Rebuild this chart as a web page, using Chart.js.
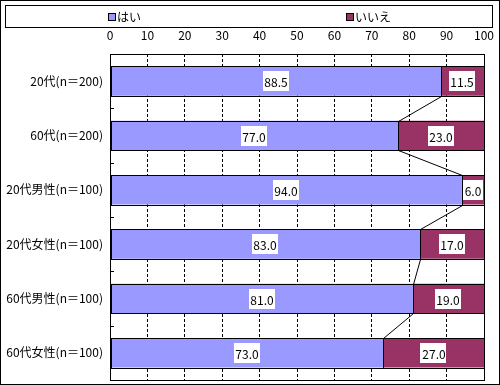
<!DOCTYPE html>
<html>
<head>
<meta charset="utf-8">
<script src="https://cdn.jsdelivr.net/npm/chart.js@4.4.0/dist/chart.umd.min.js"></script>
<style>
html,body{margin:0;padding:0;background:#fff;}
#wrap{position:relative;width:500px;height:385px;box-sizing:border-box;border:1px solid #000;}
canvas{position:absolute;left:0;top:0;}
</style>
</head>
<body>
<div id="wrap"><canvas id="c" width="498" height="383"></canvas></div>
<script>
const categories = ["20代(n＝200)", "60代(n＝200)", "20代男性(n＝100)", "20代女性(n＝100)", "60代男性(n＝100)", "60代女性(n＝100)"];
const seriesNames = ["はい", "いいえ"];
const yesValues = [88.5, 77.0, 94.0, 83.0, 81.0, 73.0];
const noValues = [11.5, 23.0, 6.0, 17.0, 19.0, 27.0];
const xTicks = [0, 10, 20, 30, 40, 50, 60, 70, 80, 90, 100];

const FONT = '"Noto Sans CJK JP", "Noto Sans", sans-serif';
const colors = ["#9999FF", "#993366"];

const customPlugin = {
  id: 'custom',
  beforeDraw(chart) {
    const ctx = chart.ctx;
    ctx.save();
    ctx.fillStyle = '#fff';
    ctx.fillRect(0, 0, chart.width, chart.height);
    ctx.restore();
  },
  afterDatasetsDraw(chart) {
    const ctx = chart.ctx;
    const ca = chart.chartArea;
    ctx.save();
    ctx.strokeStyle = '#000';
    ctx.lineWidth = 1;
    // crisp bar outlines
    chart.data.datasets.forEach((ds, di) => {
      const meta = chart.getDatasetMeta(di);
      meta.data.forEach((el) => {
        const x0 = Math.round(Math.min(el.base, el.x));
        const x1 = Math.round(Math.max(el.base, el.x));
        const y0 = Math.round(el.y - el.height / 2);
        const y1 = Math.round(el.y + el.height / 2);
        ctx.strokeRect(x0 + 0.5, y0 + 0.5, x1 - x0, y1 - y0);
      });
    });
    // series lines
    const m0 = chart.getDatasetMeta(0);
    for (let i = 0; i < m0.data.length - 1; i++) {
      const a = m0.data[i], b = m0.data[i + 1];
      ctx.beginPath();
      ctx.moveTo(Math.round(a.x) + 0.5, Math.round(a.y + a.height / 2) + 0.5);
      ctx.lineTo(Math.round(b.x) + 0.5, Math.round(b.y - b.height / 2) + 0.5);
      ctx.stroke();
    }
    // left inward ticks at category boundaries
    const ys = chart.scales.y;
    for (let i = 1; i < categories.length; i++) {
      const yy = Math.round((ys.getPixelForValue(i - 1) + ys.getPixelForValue(i)) / 2) + 0.5;
      ctx.beginPath();
      ctx.moveTo(ca.left, yy);
      ctx.lineTo(ca.left + 4, yy);
      ctx.stroke();
    }
    // plot border
    ctx.strokeRect(Math.round(ca.left) + 0.5, Math.round(ca.top) + 0.5, Math.round(ca.right - ca.left), Math.round(ca.bottom - ca.top));
    // data labels
    ctx.font = '12px ' + FONT;
    ctx.textAlign = 'center';
    ctx.textBaseline = 'middle';
    chart.data.datasets.forEach((ds, di) => {
      const meta = chart.getDatasetMeta(di);
      meta.data.forEach((el, i) => {
        const cx = (el.x + el.base) / 2;
        const cy = el.y;
        const txt = ds.data[i].toFixed(1);
        const w = ctx.measureText(txt).width + 3;
        const h = 20;
        ctx.fillStyle = '#fff';
        ctx.fillRect(Math.round(cx - w / 2), Math.round(cy - h / 2), Math.round(w), h);
        ctx.fillStyle = '#000';
        ctx.fillText(txt, Math.round(cx), Math.round(cy) + 1);
      });
    });
    // legend
    ctx.strokeStyle = '#000';
    ctx.strokeRect(4.5, 4.5, 487, 22);
    const legX = [107, 345];
    ctx.textAlign = 'left';
    ctx.textBaseline = 'middle';
    chart.data.datasets.forEach((ds, di) => {
      const x = legX[di];
      ctx.fillStyle = ds.backgroundColor;
      ctx.fillRect(x, 12, 7, 7);
      ctx.strokeRect(x + 0.5, 12.5, 7, 7);
      ctx.fillStyle = '#000';
      ctx.fillText(ds.label, x + 9, 16);
    });
    ctx.restore();
  }
};

new Chart(document.getElementById('c'), {
  type: 'bar',
  data: {
    labels: categories,
    datasets: [
      { label: seriesNames[0], data: yesValues, backgroundColor: colors[0], borderWidth: 0 },
      { label: seriesNames[1], data: noValues, backgroundColor: colors[1], borderWidth: 0 }
    ]
  },
  options: {
    indexAxis: 'y',
    responsive: false,
    animation: false,
    devicePixelRatio: 1,
    barPercentage: 1,
    categoryPercentage: 0.54,
    layout: { padding: { left: 0, top: 0, right: 15, bottom: 4 } },
    plugins: { legend: { display: false }, tooltip: { enabled: false } },
    scales: {
      x: {
        position: 'top',
        stacked: true,
        min: 0, max: 100,
        afterBuildTicks(scale) { scale.ticks = xTicks.map(v => ({ value: v })); },
        afterFit(scale) { scale.height = 53; scale.paddingLeft = 0; scale.paddingRight = 0; },
        grid: {
          drawTicks: false,
          color: (c) => (c.tick && (c.tick.value === 0 || c.tick.value === 100)) ? 'rgba(0,0,0,0)' : '#000',
          lineWidth: 1
        },
        border: { display: false, dash: [3, 2] },
        ticks: { color: '#000', font: { family: FONT, size: 12 }, padding: 11, maxRotation: 0, autoSkip: false }
      },
      y: {
        stacked: true,
        afterFit(scale) { scale.width = 109; scale.paddingTop = 0; scale.paddingBottom = 0; },
        grid: { display: false, drawTicks: false },
        border: { display: false },
        ticks: { color: '#000', font: { family: FONT, size: 12 }, padding: 7, autoSkip: false }
      }
    }
  },
  plugins: [customPlugin]
});
</script>
</body>
</html>
